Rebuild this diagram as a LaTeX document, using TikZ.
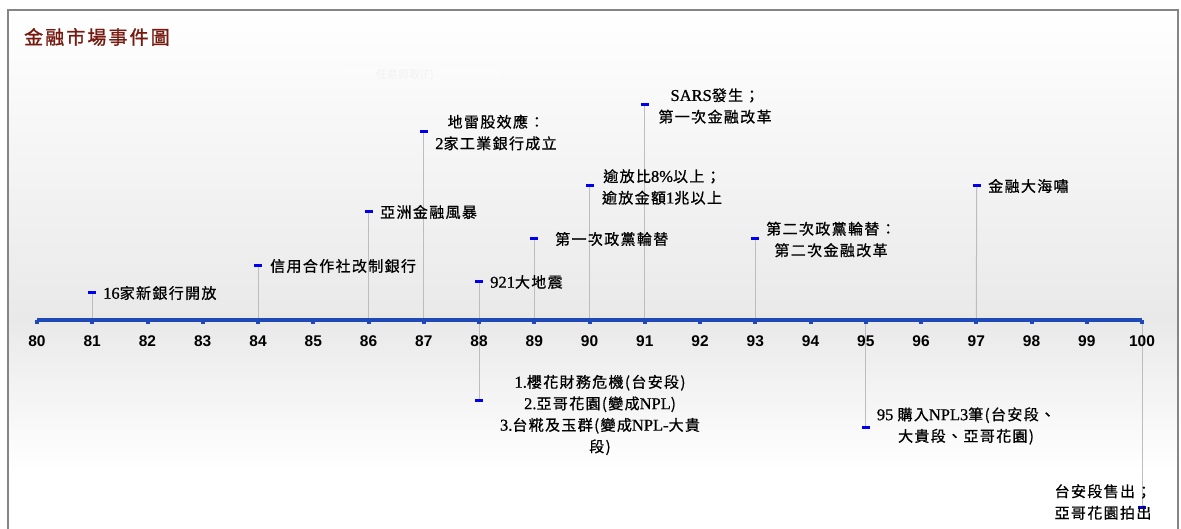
\documentclass[tikz,border=0pt]{standalone}
\usepackage{fontspec}
\newfontfamily\cjkf{Noto Sans CJK TC}[LetterSpace=9,FakeBold=0.8]
\newfontfamily\wmf{Noto Sans CJK TC}
\newfontfamily\titlef{Noto Sans CJK TC}[LetterSpace=11,FakeBold=1.2]
\newfontfamily\latf{Liberation Serif}[FakeBold=0.8]
\newfontfamily\yrf{Liberation Sans}
\newcommand\latx[1]{{\latf\fontsize{16.5}{21.5}\selectfont #1}}
\definecolor{axisblue}{HTML}{1F48B8}
\definecolor{mkblue}{HTML}{0000EE}
\definecolor{vlgray}{HTML}{BDBDBD}
\definecolor{framegray}{HTML}{858585}
\definecolor{titlered}{HTML}{761A10}
\definecolor{bgmid}{HTML}{E9E9E9}
\tikzset{
  mk/.style={fill=mkblue,minimum width=8pt,minimum height=3pt,inner sep=0pt,draw=none},
  vl/.style={draw=vlgray,line width=1pt},
  axisline/.style={draw=axisblue,line width=4.5pt},
  sq/.style={fill=axisblue,minimum width=4pt,minimum height=4pt,inner sep=0pt},
  yr/.style={font=\yrf\bfseries\fontsize{15.5}{18}\selectfont,inner sep=0pt},
  lab/.style={font=\cjkf\fontsize{15}{21.5}\selectfont,inner sep=0pt,align=center,text=black},
  labw/.style={lab,anchor=west},
}
\begin{document}
\begin{tikzpicture}[x=1pt,y=-1pt]
\useasboundingbox (0,0) rectangle (1181,529);
% background
\fill[white] (0,0) rectangle (1181,529);
\shade[top color=white,bottom color=bgmid] (8,10) rectangle (1178,320);
\shade[top color=bgmid,bottom color=white] (8,320) rectangle (1178,470);
\fill[white] (8,470) rectangle (1178,529);
\draw[framegray,line width=1.5pt] (8,529) -- (8,10) -- (1178,10) -- (1178,529);
% faint watermark
\node[draw=black!3,rounded corners=2pt,minimum width=158pt,minimum height=20pt,inner sep=0pt] (wm) at (423,75) {};
\node[text=black!5,font=\wmf\fontsize{11}{13}\selectfont,inner sep=0pt] (wmt) at (405,75) {任意剪取(F)};
% title
\node[font=\titlef\fontsize{19}{22}\selectfont,text=titlered,anchor=west,inner sep=0pt] (title) at (24,37) {金融市場事件圖};
% axis coordinates
\foreach \i in {80,...,100} {
  \coordinate (a\i) at ({37+(\i-80)*55.25},320);
}
% event markers
\node[mk] (m81) at (92.25,293) {};
\node[mk] (m84) at (258,266) {};
\node[mk] (m86) at (368.5,212) {};
\node[mk] (m87) at (423.75,132) {};
\node[mk] (m88u) at (479,282) {};
\node[mk] (m88d) at (479,400) {};
\node[mk] (m89) at (534.25,239) {};
\node[mk] (m90) at (589.5,186) {};
\node[mk] (m91) at (644.75,105) {};
\node[mk] (m93) at (755.25,239) {};
\node[mk] (m95) at (865.75,427) {};
\node[mk] (m97) at (976.75,186) {};
\node[mk] (m100) at (1142,507) {};
% vertical lines
\draw[vl] (a81) -- (m81.center);
\draw[vl] (a84) -- (m84.center);
\draw[vl] (a86) -- (m86.center);
\draw[vl] (a87) -- (m87.center);
\draw[vl] (m88d.center) -- (m88u.center);
\draw[vl] (a89) -- (m89.center);
\draw[vl] (a90) -- (m90.center);
\draw[vl] (a91) -- (m91.center);
\draw[vl] (a93) -- (m93.center);
\draw[vl] (a95) -- (m95.center);
\draw[vl] (a97) -- (m97.center);
\draw[vl] (a100) -- (m100.center);
% redraw markers on top
\foreach \m in {m81,m84,m86,m87,m88u,m88d,m89,m90,m91,m93,m95,m97,m100} {
  \fill[mkblue] ([xshift=-4pt,yshift=1.5pt]\m.center) rectangle ([xshift=4pt,yshift=-1.5pt]\m.center);
}
% axis
\draw[axisline] (a80) -- (a100);
\foreach \i in {80,...,100} {
  \node[sq] (s\i) at ([yshift=-2.5pt]a\i) {};
  \node[yr] (y\i) at ([yshift=-21pt]a\i) {\i};
}
% labels
\node[labw] (l81) at (103,293) {\latx{16}家新銀行開放};
\node[labw] (l84) at (270,266) {信用合作社改制銀行};
\node[labw] (l86) at (380,212) {亞洲金融風暴};
\node[lab] (l87) at (496,132.5) {地雷股效應：\\\latx{2}家工業銀行成立};
\node[labw] (l88u) at (490,282) {\latx{921}大地震};
\node[labw] (l89) at (555,239) {第一次政黨輪替};
\node[lab] (l90) at (662,187) {逾放比\latx{8\%}以上；\\逾放金額\latx{1}兆以上};
\node[lab] (l91) at (715,106) {\latx{SARS}發生；\\第一次金融改革};
\node[lab] (l93) at (831,239.5) {第二次政黨輪替：\\第二次金融改革};
\node[labw] (l97) at (988,186) {金融大海嘯};
\node[lab] (l88d) at (600,415) {\latx{1.}櫻花財務危機(台安段)\\\latx{2.}亞哥花園(變成\latx{NPL})\\\latx{3.}台糀及玉群(變成\latx{NPL-}大貴\\段)};
\node[lab] (l95) at (966,426) {\latx{95 }購入\latx{NPL3}筆(台安段、\\大貴段、亞哥花園)};
\node[lab] (l100) at (1103,502) {台安段售出；\\亞哥花園拍出};
\end{tikzpicture}
\end{document}
